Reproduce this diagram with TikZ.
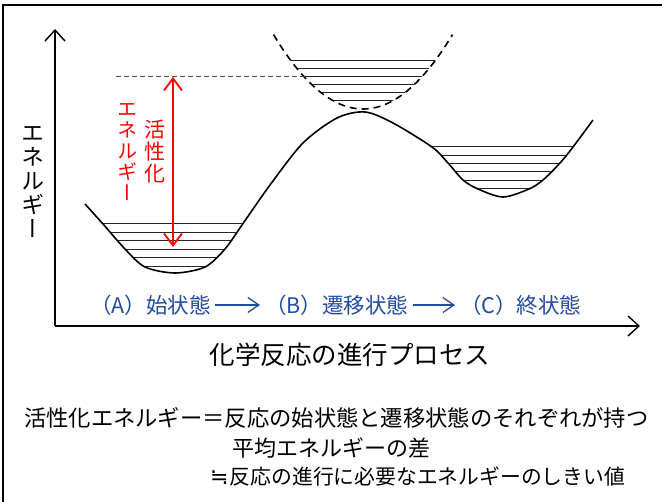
\documentclass[tikz,border=0pt]{standalone}
\usepackage{fontspec}
\setmainfont{Noto Sans CJK JP}
\newfontfamily\jpv[RawFeature=+vert]{Noto Sans CJK JP}
\newfontfamily\symfont{DejaVu Sans}
\usetikzlibrary{arrows.meta}
\definecolor{myblue}{RGB}{35,75,160}
\definecolor{myred}{RGB}{255,0,0}
\begin{document}
\begin{tikzpicture}[x=1pt,y=-1pt,
  frameline/.style={line width=2pt},
  curveline/.style={line width=1.6pt, line join=round},
  hatch/.style={line width=1pt, black!85},
  axisarrow/.style={line width=1.4pt, -{Straight Barb[length=11pt,width=20pt]}},
  redarrow/.style={line width=1.8pt, myred, {Straight Barb[length=12pt,width=18pt]}-{Straight Barb[length=12pt,width=18pt]}},
  bluearrow/.style={line width=1.3pt, myblue, -{Straight Barb[length=11pt,width=15pt]}, shorten <=4pt, shorten >=5pt},
  refline/.style={line width=1pt, black!70, dash pattern=on 5pt off 3pt},
  tsdash/.style={line width=1.6pt, dash pattern=on 7pt off 5pt},
  bluetxt/.style={myblue, font=\fontsize{21.5}{24}\selectfont, inner sep=0pt, anchor=west},
  redcol/.style={myred, align=center, inner sep=0pt},
  bodytxt/.style={inner sep=0pt, anchor=west}
]
\useasboundingbox (0,0) rectangle (662,502);
\fill[white] (0,0) rectangle (662,502);
% frame
\draw[frameline] (3,502) -- (3,5) -- (662,5);

% hatch lines, clipped above the energy curve
\begin{scope}
\clip plot[smooth] coordinates {(85,204) (103,224) (125,249) (145,267) (175,273) (205,267) (225,249) (242,225) (270,185) (303,143) (337,118) (365,112) (393,123) (432,147) (448,163) (463,180) (478,189) (503,197) (529,189) (543,180) (560,163) (573,147) (593,120)} -- (593,0) -- (85,0) -- cycle;
\foreach \yy in {224,232.5,241,249.5,258,266.5} \draw[hatch] (86,\yy) -- (262,\yy);
\foreach \yy in {147,155.3,163.6,172,180.3,188.6} \draw[hatch] (420,\yy) -- (592,\yy);
\end{scope}
% energy curve
\draw[curveline] plot[smooth] coordinates {(85,204) (103,224) (125,249) (145,267) (175,273) (205,267) (225,249) (242,225) (270,185) (303,143) (337,118) (365,112) (393,123) (432,147) (448,163) (463,180) (478,189) (503,197) (529,189) (543,180) (560,163) (573,147) (593,120)};

% transition state well (dashed)
\begin{scope}
\clip plot[domain=272:454, samples=60] (\x, {109-0.0093*(\x-363)^2}) -- cycle;
\foreach \yy in {61,69,77,85,93,101} \draw[hatch] (270,\yy) -- (456,\yy);
\end{scope}
\draw[tsdash] plot[domain=273.5:452.5, samples=60] (\x, {109-0.0093*(\x-363)^2});

% reference level line
\coordinate (lvL) at (116,77);
\coordinate (lvR) at (304.5,77);
\draw[refline] (lvL) -- (lvR);

% axes
\coordinate (origin) at (55,326);
\coordinate (ytop) at (55,29);
\coordinate (xend) at (640,326);
\draw[axisarrow] (origin) -- (ytop);
\draw[axisarrow] (origin) -- (xend);

% activation energy arrow
\coordinate (eaTop) at (173,77);
\coordinate (eaBot) at (173,247);
\draw[redarrow] (eaBot) -- (eaTop);
\node[redcol, font=\jpv\fontsize{21}{22}\selectfont] (ea1) at (155,152) {活\\性\\化};
\node[redcol, font=\jpv\fontsize{20}{21}\selectfont] (ea2) at (127,152.5) {エ\\ネ\\ル\\ギ\\ー};

% y-axis label
\node[align=center, inner sep=0pt, font=\jpv\fontsize{23}{24}\selectfont] (ylab) at (33,182) {エ\\ネ\\ル\\ギ\\ー};

% states
\node[bluetxt] (stA) at (90,305) {（A）始状態};
\node[bluetxt] (stB) at (265,305) {（B）遷移状態};
\node[bluetxt] (stC) at (460,305) {（C）終状態};
\draw[bluearrow] (stA) -- (stB);
\draw[bluearrow] (stB) -- (stC);

% x-axis label
\node[inner sep=0pt, font=\fontsize{25.5}{28}\selectfont] (xlab) at (350,355) {化学反応の進行プロセス};

% explanation
\node[bodytxt, font=\fontsize{22.3}{24}\selectfont] (ex1) at (24,418) {活性化エネルギー＝反応の始状態と遷移状態のそれぞれが持つ};
\node[bodytxt, font=\fontsize{22}{24}\selectfont] (ex2) at (232,448) {平均エネルギーの差};
\node[bodytxt, font=\fontsize{20.8}{24}\selectfont] (ex3) at (210,477) {\makebox[0.95em][l]{\symfont\fontsize{22}{24}\selectfont ≒}反応の進行に必要なエネルギーのしきい値};
\end{tikzpicture}
\end{document}
